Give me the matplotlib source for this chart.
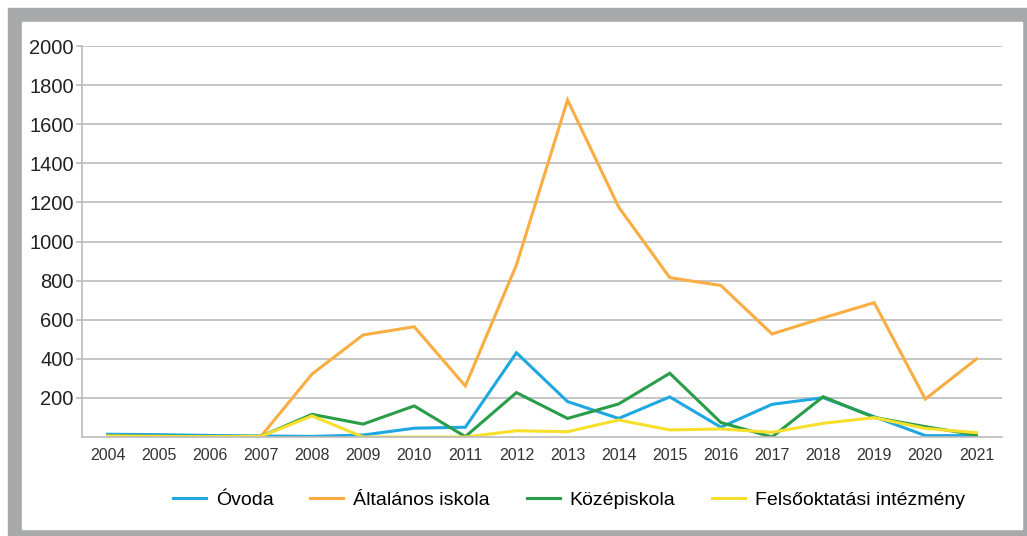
import matplotlib
matplotlib.use("Agg")
import matplotlib.pyplot as plt
from matplotlib.patches import Rectangle

plt.rcParams['font.family'] = ['Liberation Sans', 'DejaVu Sans']

years = [str(y) for y in range(2004, 2022)]
ovoda = [14, 12, 8, 5, 3, 10, 45, 50, 431, 181, 95, 205, 50, 167, 201, 104, 7, 7]
altalanos = [5, 3, 2, 3, 322, 522, 564, 261, 880, 1724, 1176, 815, 775, 527, 609, 687, 194, 399]
kozep = [5, 4, 3, 3, 116, 66, 159, 2, 227, 95, 169, 326, 74, 0, 206, 100, 53, 10]
felso = [5, 3, 2, 3, 108, 0, 0, 0, 32, 27, 87, 36, 41, 24, 70, 99, 44, 22]

series = [
    ("Óvoda", ovoda, "#1ea7e1"),
    ("Általános iskola", altalanos, "#f9ad43"),
    ("Középiskola", kozep, "#2a9d48"),
    ("Felsőoktatási intézmény", felso, "#f7df2c"),
]

W, H = 1027, 536
fig = plt.figure(figsize=(W / 100, H / 100), dpi=100)

# grey frame and white panel
fig.patches.append(Rectangle((8 / W, 0), (W - 8) / W, (H - 8) / H,
                             transform=fig.transFigure, color="#a8a9ab", zorder=-2))
fig.patches.append(Rectangle((22 / W, 7 / H), 1000 / W, 507 / H,
                             transform=fig.transFigure, color="white", zorder=-1))

ax = fig.add_axes([82 / W, (H - 437) / H, 920 / W, 391 / H])
ax.patch.set_alpha(0)

x = range(len(years))
for name, vals, col in series:
    ax.plot(x, vals, color=col, lw=2.2, label=name, solid_joinstyle="miter")

ax.set_xlim(-0.5, len(years) - 0.5)
ax.set_ylim(0, 2000)
ax.set_xticks(list(x))
ax.set_xticklabels(years, fontsize=11.5, color="#333333")
ax.set_yticks(range(200, 2001, 200))
ax.set_yticklabels([str(v) for v in range(200, 2001, 200)], fontsize=14.5, color="#222222")
ax.tick_params(axis="x", length=0, pad=8)
ax.tick_params(axis="y", length=4, color="#bbbbbb", width=1.2, pad=2)

ax.grid(axis="y", color="#bbbbbb", lw=1.2)
ax.set_axisbelow(True)
for s in ["top", "right"]:
    ax.spines[s].set_visible(False)
ax.spines["left"].set_color("#bbbbbb")
ax.spines["left"].set_linewidth(1.2)
ax.spines["bottom"].set_color("#bbbbbb")
ax.spines["bottom"].set_linewidth(1.2)

fig.legend(loc="center", bbox_to_anchor=(569 / W, (H - 500) / H), ncol=4,
           frameon=False, fontsize=14, handlelength=1.7, columnspacing=1.9,
           handletextpad=0.5)

fig.savefig("out.png", dpi=100)
